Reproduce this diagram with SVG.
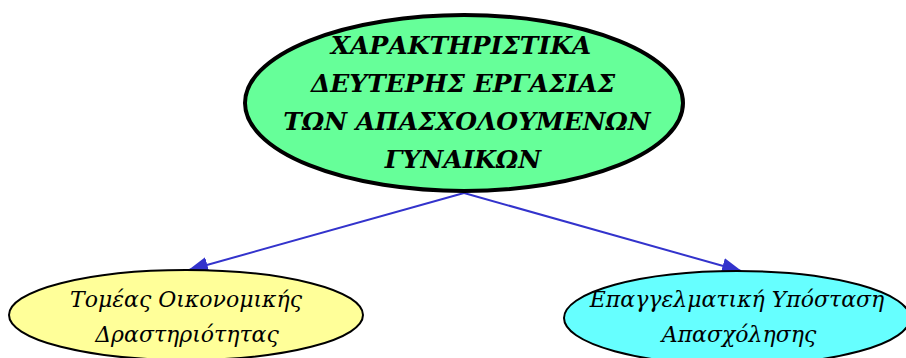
<svg xmlns="http://www.w3.org/2000/svg" width="906" height="358" viewBox="0 0 906 358">
<style>
.t{font-family:"DejaVu Serif","Liberation Serif",serif;font-style:italic;text-anchor:middle;fill:#000}
.top{font-size:25px;font-weight:bold}
.sub{font-size:22px}
.edge{stroke:#3333cc;stroke-width:2;fill:none}
</style>
<defs>
<marker id="ah" markerWidth="20" markerHeight="16" refX="19" refY="8" orient="auto" markerUnits="userSpaceOnUse" viewBox="0 0 20 16">
<path d="M0,0 L20,8 L0,16 z" fill="#3333cc"/>
</marker>
</defs>
<rect width="906" height="358" fill="#fff"/>
<g id="connectors">
<line class="edge" x1="464" y1="193" x2="189" y2="270" marker-end="url(#ah)"/>
<line class="edge" x1="464" y1="193" x2="741" y2="271" marker-end="url(#ah)"/>
</g>
<g id="node-main">
<ellipse cx="464" cy="103" rx="219" ry="88" fill="#66ff99" stroke="#000" stroke-width="4"/>
<text class="t top" x="461" y="54">ΧΑΡΑΚΤΗΡΙΣΤΙΚΑ</text>
<text class="t top" x="463" y="92">ΔΕΥΤΕΡΗΣ ΕΡΓΑΣΙΑΣ</text>
<text class="t top" x="467" y="130">ΤΩΝ ΑΠΑΣΧΟΛΟΥΜΕΝΩΝ</text>
<text class="t top" x="463" y="168">ΓΥΝΑΙΚΩΝ</text>
</g>
<g id="node-left">
<ellipse cx="186" cy="315" rx="177" ry="45" fill="#ffff99" stroke="#000" stroke-width="2"/>
<text class="t sub" x="186" y="307">Τομέας Οικονομικής</text>
<text class="t sub" x="187" y="342">Δραστηριότητας</text>
</g>
<g id="node-right">
<ellipse cx="737" cy="318" rx="173" ry="47" fill="#66ffff" stroke="#000" stroke-width="2"/>
<text class="t sub" x="737" y="307">Επαγγελματική Υπόσταση</text>
<text class="t sub" x="739" y="342">Απασχόλησης</text>
</g>
</svg>
